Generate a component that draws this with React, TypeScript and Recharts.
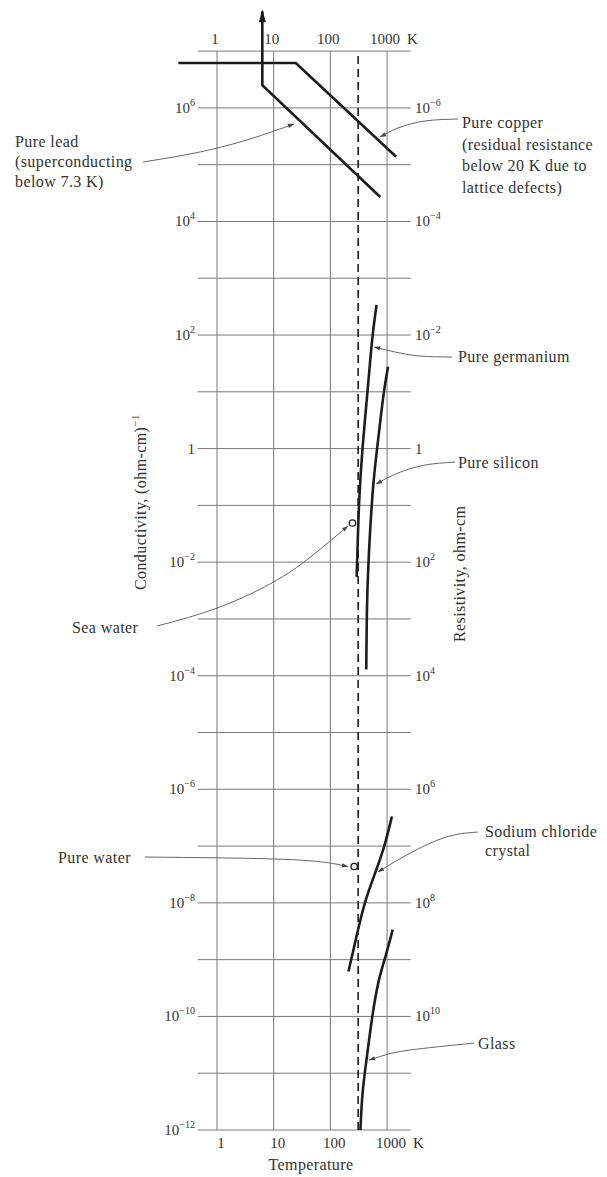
import React from "react";
import { LineChart, Line, XAxis, YAxis, ReferenceLine } from "recharts";

// all values are log10: temperature in K, conductivity in (ohm-cm)^-1
const copperT = [-0.68, 1.39, 3.16];
const copperS = [6.79, 6.79, 5.14];

const leadT = [0.8, 0.8, 2.88];
const leadS = [7.7, 6.4, 4.43];

const germaniumT = [2.815, 2.739, 2.66, 2.563, 2.501, 2.473, 2.463];
const germaniumS = [2.53, 2.0, 1.035, 0.014, -0.954, -2.01, -2.26];

const siliconT = [3.018, 2.943, 2.827, 2.751, 2.667, 2.642, 2.633];
const siliconS = [1.44, 1.035, 0.014, -0.6, -2.01, -2.84, -3.89];

const saltT = [3.085, 2.956, 2.811, 2.594, 2.448, 2.319];
const saltS = [-6.48, -7.01, -7.42, -8.0, -8.65, -9.21];

const glassT = [3.1, 2.974, 2.847, 2.735, 2.639, 2.56, 2.53];
const glassS = [-8.47, -8.95, -9.35, -10.0, -10.76, -11.34, -12];

const seaWaterT = [2.39];
const seaWaterS = [-1.31];
const pureWaterT = [2.42];
const pureWaterS = [-7.36];

const roomTemp = 2.49; // ~300 K

// leader lines from the labels to the curves
const leadLeaderT = [-1.305, -0.3, 0.582, 1.358];
const leadLeaderS = [5.047, 5.223, 5.452, 5.716];
const copperLeaderT = [4.251, 3.669, 3.193, 2.875];
const copperLeaderS = [5.804, 5.769, 5.646, 5.487];
const geLeaderT = [4.145, 3.581, 3.14, 2.77];
const geLeaderS = [1.613, 1.63, 1.701, 1.789];
const siLeaderT = [4.198, 3.669, 3.193, 2.805];
const siLeaderS = [-0.237, -0.29, -0.43, -0.624];
const seaLeaderT = [-1.058, 0.053, 1.058, 1.693, 2.311];
const seaLeaderS = [-3.125, -2.79, -2.315, -1.875, -1.364];
const waterLeaderT = [-1.27, 1.058, 1.993, 2.311];
const waterLeaderS = [-7.193, -7.229, -7.299, -7.361];
const saltLeaderT = [4.604, 3.987, 3.281, 2.84];
const saltLeaderS = [-6.753, -6.859, -7.193, -7.457];
const glassLeaderT = [4.533, 3.405, 2.963, 2.681];
const glassLeaderS = [-10.469, -10.592, -10.68, -10.768];

const tempDecades = [0, 1, 2, 3];
const tempLabels = ["1", "10", "100", "1000"];
const condDecades = [7, 6, 5, 4, 3, 2, 1, 0, -1, -2, -3, -4, -5, -6, -7, -8, -9, -10, -11, -12];
const leftTicks = [6, 4, 2, 0, -2, -4, -6, -8, -10, -12];
const rightTicks = [6, 4, 2, 0, -2, -4, -6, -8, -10];

const X_DOMAIN: [number, number] = [-1.4, 4.65];
const Y_DOMAIN: [number, number] = [-12, 7.9];
const GRID_T: [number, number] = [-0.34, 3.42];
const GRID_S: [number, number] = [-12, 7];

const PX_T = 56.69;
const PX_S = 56.78;

const serif = "'Liberation Serif', 'Times New Roman', serif";
const ink = "#1c1c1c";
const textInk = "#333";
const gridInk = "#7a7a7a";

const zip = (ts: number[], ss: number[]) => ts.map((t, i) => ({ t, s: ss[i] }));

const sup = (v: number) => (v < 0 ? `\u2212${-v}` : `${v}`);

function LeftTick(props: any) {
  const { y, payload } = props;
  const v = payload.value;
  return (
    <text x={195} y={y + 5} textAnchor="end" fontFamily={serif} fontSize={15} fill={textInk}>
      {v === 0 ? "1" : (
        <>
          10<tspan dy={-7} fontSize={10}>{sup(v)}</tspan>
        </>
      )}
    </text>
  );
}

function RightTick(props: any) {
  const { y, payload } = props;
  const v = -payload.value;
  return (
    <text x={415} y={y + 5} textAnchor="start" fontFamily={serif} fontSize={15} fill={textInk}>
      {v === 0 ? "1" : (
        <>
          10<tspan dy={-7} fontSize={10}>{sup(v)}</tspan>
        </>
      )}
    </text>
  );
}

function TempTick(props: any, top: boolean) {
  const { x, payload } = props;
  const i = tempDecades.indexOf(payload.value);
  const cx = x + (top ? -2 : 4);
  const y = top ? 44 : 1148;
  return (
    <g>
      <text x={cx} y={y} textAnchor="middle" fontFamily={serif} fontSize={15} fill={textInk}>
        {tempLabels[i]}
      </text>
      {i === 3 && (
        <text x={cx + 22} y={y} fontFamily={serif} fontSize={15} fill={textInk}>
          K
        </text>
      )}
    </g>
  );
}

function leaderDot(ts: number[], ss: number[]) {
  const n = ts.length;
  const a = Math.atan2(-(ss[n - 1] - ss[n - 2]) * PX_S, (ts[n - 1] - ts[n - 2]) * PX_T);
  return (props: any) => {
    const { cx, cy, index } = props;
    if (index !== n - 1) return <g key={index} />;
    const L = 6;
    const W = 2.2;
    const bx = cx - L * Math.cos(a);
    const by = cy - L * Math.sin(a);
    const nx = -Math.sin(a) * W;
    const ny = Math.cos(a) * W;
    return (
      <path
        key={index}
        d={`M${cx},${cy}L${bx + nx},${by + ny}L${bx - nx},${by - ny}Z`}
        fill="#444"
      />
    );
  };
}

function leadArrow(props: any) {
  const { cx, cy, index } = props;
  if (index !== 0) return <g key={index} />;
  return <path key={index} d={`M${cx},${cy - 2}L${cx - 3.5},${cy + 11}L${cx + 3.5},${cy + 11}Z`} fill={ink} />;
}

const openCircle = { r: 3.2, fill: "#fff", stroke: ink, strokeWidth: 1.3 };

const curves = [
  { key: "copper", data: zip(copperT, copperS), type: "linear" },
  { key: "germanium", data: zip(germaniumT, germaniumS), type: "basis" },
  { key: "silicon", data: zip(siliconT, siliconS), type: "basis" },
  { key: "salt", data: zip(saltT, saltS), type: "basis" },
  { key: "glass", data: zip(glassT, glassS), type: "basis" },
];

const leaders = [
  [leadLeaderT, leadLeaderS],
  [copperLeaderT, copperLeaderS],
  [geLeaderT, geLeaderS],
  [siLeaderT, siLeaderS],
  [seaLeaderT, seaLeaderS],
  [waterLeaderT, waterLeaderS],
  [saltLeaderT, saltLeaderS],
  [glassLeaderT, glassLeaderS],
];

function Labels() {
  const t = { fontFamily: serif, fontSize: 16, fill: textInk, letterSpacing: 0.4 };
  return (
    <svg width={607} height={1177} style={{ position: "absolute", left: 0, top: 0, pointerEvents: "none" }}>
      <text {...t} x={15} y={147}>Pure lead</text>
      <text {...t} x={15} y={167}>(superconducting</text>
      <text {...t} x={15} y={187}>below 7.3 K)</text>

      <text {...t} x={462} y={128}>Pure copper</text>
      <text {...t} x={462} y={150}>(residual resistance</text>
      <text {...t} x={462} y={171}>below 20 K due to</text>
      <text {...t} x={462} y={193}>lattice defects)</text>

      <text {...t} x={458} y={362}>Pure germanium</text>
      <text {...t} x={458} y={468}>Pure silicon</text>
      <text {...t} x={72} y={633}>Sea water</text>
      <text {...t} x={58} y={863}>Pure water</text>
      <text {...t} x={485} y={837}>Sodium chloride</text>
      <text {...t} x={485} y={856}>crystal</text>
      <text {...t} x={478} y={1049}>Glass</text>

      <text {...t} x={311} y={1170} textAnchor="middle">Temperature</text>

      <text {...t} x={146} y={590} transform="rotate(-90 146 590)">
        Conductivity, (ohm-cm)<tspan dy={-7} fontSize={11}>{"\u22121"}</tspan>
      </text>
      <text {...t} x={465} y={642} transform="rotate(-90 465 642)">
        Resistivity, ohm-cm
      </text>
    </svg>
  );
}

export default function App() {
  return (
    <div style={{ position: "absolute", left: 0, top: 0, width: 607, height: 1177, background: "#fff" }}>
      <LineChart
        width={607}
        height={1177}
        margin={{ top: 0, left: 137.6, right: 126.4, bottom: 47 }}
      >
        <XAxis
          xAxisId="b"
          type="number"
          dataKey="t"
          domain={X_DOMAIN}
          allowDataOverflow
          ticks={tempDecades}
          interval={0}
          mirror
          axisLine={false}
          tickLine={false}
          tickSize={0}
          tick={(p: any) => TempTick(p, false)}
        />
        <XAxis
          xAxisId="t"
          orientation="top"
          type="number"
          dataKey="t"
          domain={X_DOMAIN}
          allowDataOverflow
          ticks={tempDecades}
          interval={0}
          mirror
          axisLine={false}
          tickLine={false}
          tickSize={0}
          tick={(p: any) => TempTick(p, true)}
        />
        <YAxis
          yAxisId="l"
          type="number"
          dataKey="s"
          domain={Y_DOMAIN}
          allowDataOverflow
          ticks={leftTicks}
          interval={0}
          mirror
          axisLine={false}
          tickLine={false}
          tickSize={0}
          tick={LeftTick}
        />
        <YAxis
          yAxisId="r"
          orientation="right"
          type="number"
          dataKey="s"
          domain={Y_DOMAIN}
          allowDataOverflow
          ticks={rightTicks}
          interval={0}
          mirror
          axisLine={false}
          tickLine={false}
          tickSize={0}
          tick={RightTick}
        />

        {condDecades.map((d) => (
          <ReferenceLine
            key={`h${d}`}
            xAxisId="b"
            yAxisId="l"
            segment={[{ x: GRID_T[0], y: d }, { x: GRID_T[1], y: d }]}
            stroke={gridInk}
            strokeWidth={1}
          />
        ))}
        {tempDecades.map((d) => (
          <ReferenceLine
            key={`v${d}`}
            xAxisId="t"
            yAxisId="r"
            segment={[{ x: d, y: GRID_S[0] }, { x: d, y: GRID_S[1] }]}
            stroke={gridInk}
            strokeWidth={1}
          />
        ))}
        <ReferenceLine
          xAxisId="b"
          yAxisId="l"
          segment={[{ x: roomTemp, y: GRID_S[0] }, { x: roomTemp, y: GRID_S[1] }]}
          stroke={ink}
          strokeWidth={1.6}
          strokeDasharray="8 5"
        />

        {leaders.map(([ts, ss], i) => (
          <Line
            key={`leader${i}`}
            xAxisId="b"
            yAxisId="l"
            data={zip(ts, ss)}
            dataKey="s"
            type="natural"
            stroke="#555"
            strokeWidth={0.9}
            dot={leaderDot(ts, ss)}
            activeDot={false}
            isAnimationActive={false}
          />
        ))}

        {curves.map((c) => (
          <Line
            key={c.key}
            xAxisId="b"
            yAxisId="l"
            data={c.data}
            dataKey="s"
            type={c.type as any}
            stroke={ink}
            strokeWidth={2.6}
            dot={false}
            activeDot={false}
            isAnimationActive={false}
          />
        ))}
        <Line
          xAxisId="b"
          yAxisId="l"
          data={zip(leadT, leadS)}
          dataKey="s"
          type="linear"
          stroke={ink}
          strokeWidth={2.6}
          dot={leadArrow}
          activeDot={false}
          isAnimationActive={false}
        />
        <Line
          xAxisId="b"
          yAxisId="l"
          data={zip(seaWaterT, seaWaterS)}
          dataKey="s"
          stroke="none"
          dot={openCircle}
          activeDot={false}
          isAnimationActive={false}
        />
        <Line
          xAxisId="b"
          yAxisId="l"
          data={zip(pureWaterT, pureWaterS)}
          dataKey="s"
          stroke="none"
          dot={openCircle}
          activeDot={false}
          isAnimationActive={false}
        />
      </LineChart>
      <Labels />
    </div>
  );
}
